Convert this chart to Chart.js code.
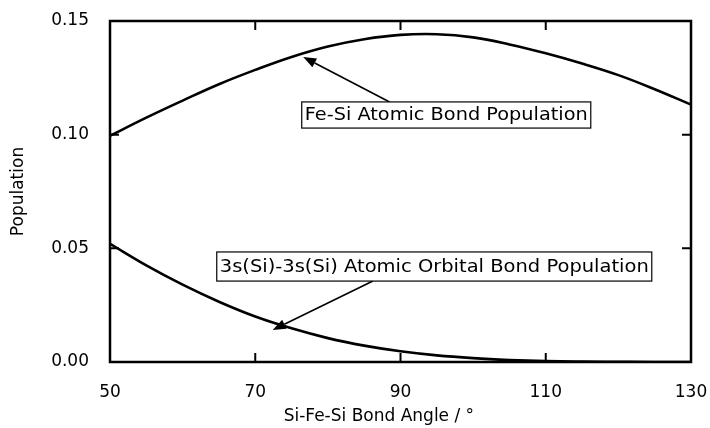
<!DOCTYPE html>
<html><head><meta charset="utf-8">
<script src="https://cdn.jsdelivr.net/npm/chart.js@4/dist/chart.umd.min.js"></script>
<style>html,body{margin:0;padding:0;background:#fff}#wrap{width:710px;height:428px}</style>
</head><body><div id="wrap"><canvas id="c" width="710" height="428"></canvas></div>
<script>
// ---- data ----
const angles = [50,55,60,65,70,75,80,85,90,95,100,105,110,115,120,125,130];
const feSiBondPopulation = [0.0995,0.1075,0.1150,0.1222,0.1285,0.1342,0.1388,0.1420,0.1439,0.1442,0.1428,0.1397,0.1358,0.1313,0.1262,0.1200,0.1132];
const s3sBondPopulation  = [0.0520,0.0425,0.0340,0.0265,0.0200,0.0148,0.0105,0.0072,0.0047,0.0029,0.0017,0.0009,0.0004,0.0002,0.0001,0.0000,0.0000];
const xTickValues = [50,70,90,110,130];
const yTickValues = [0,0.05,0.10,0.15];
const xTitle = "Si-Fe-Si Bond Angle / \u00b0";
const yTitle = "Population";
const labelTexts = ["Fe-Si Atomic Bond Population","3s(Si)-3s(Si) Atomic Orbital Bond Population"];

// annotation geometry (in data units)
const annot = [
  {text: labelTexts[0], x0: 76.4, x1: 116.2, yTop: 0.1144, yBot: 0.1029, tail:[88.5,0.1144], tip:[76.6,0.1342]},
  {text: labelTexts[1], x0: 64.7, x1: 124.6, yTop: 0.0484, yBot: 0.0356, tail:[86.2,0.0356], tip:[72.4,0.0141]}
];

const FONT = "'DejaVu Sans', 'Liberation Sans', Arial, sans-serif";

const framePlugin = {
  id: 'frame',
  afterDatasetsDraw(chart) {
    const {ctx, chartArea: a, scales: {x, y}} = chart;
    ctx.save();
    ctx.strokeStyle = '#000';
    // inward ticks
    ctx.lineWidth = 2;
    const tl = 9;
    xTickValues.forEach(v => {
      const px = x.getPixelForValue(v);
      ctx.beginPath();
      ctx.moveTo(px, a.bottom); ctx.lineTo(px, a.bottom - tl);
      ctx.moveTo(px, a.top); ctx.lineTo(px, a.top + tl);
      ctx.stroke();
    });
    yTickValues.forEach(v => {
      const py = y.getPixelForValue(v);
      ctx.beginPath();
      ctx.moveTo(a.left, py); ctx.lineTo(a.left + tl, py);
      ctx.moveTo(a.right, py); ctx.lineTo(a.right - tl, py);
      ctx.stroke();
    });
    // frame
    ctx.lineWidth = 2.5;
    ctx.strokeRect(a.left, a.top, a.right - a.left, a.bottom - a.top);

    // annotations
    annot.forEach(an => {
      const bx0 = x.getPixelForValue(an.x0), bx1 = x.getPixelForValue(an.x1);
      const by0 = y.getPixelForValue(an.yTop), by1 = y.getPixelForValue(an.yBot);
      const tx = x.getPixelForValue(an.tail[0]), ty = y.getPixelForValue(an.tail[1]);
      const px = x.getPixelForValue(an.tip[0]), py = y.getPixelForValue(an.tip[1]);
      const ang = Math.atan2(py - ty, px - tx);
      const hl = 13, hw = 5;
      const bxp = px - hl * Math.cos(ang), byp = py - hl * Math.sin(ang);
      ctx.lineWidth = 1.6;
      ctx.beginPath(); ctx.moveTo(tx, ty); ctx.lineTo(bxp, byp); ctx.stroke();
      ctx.fillStyle = '#000';
      ctx.beginPath();
      ctx.moveTo(px, py);
      ctx.lineTo(bxp + hw * Math.sin(ang), byp - hw * Math.cos(ang));
      ctx.lineTo(bxp - hw * Math.sin(ang), byp + hw * Math.cos(ang));
      ctx.closePath(); ctx.fill();
      ctx.fillStyle = '#fff';
      ctx.fillRect(bx0, by0, bx1 - bx0, by1 - by0);
      ctx.lineWidth = 1.2;
      ctx.strokeRect(bx0, by0, bx1 - bx0, by1 - by0);
      ctx.font = '17px ' + FONT;
      ctx.fillStyle = '#000';
      ctx.textBaseline = 'middle';
      ctx.textAlign = 'left';
      const w = ctx.measureText(an.text).width;
      const sx = (bx1 - bx0 - 6) / w;
      ctx.save();
      ctx.translate(bx0 + 3, (by0 + by1) / 2 + 1);
      ctx.scale(sx, 1);
      ctx.fillText(an.text, 0, 0);
      ctx.restore();
    });
    ctx.restore();
  }
};

new Chart(document.getElementById('c'), {
  type: 'line',
  data: {
    datasets: [
      {label: labelTexts[0], data: angles.map((a, i) => ({x: a, y: feSiBondPopulation[i]})),
       borderColor: '#000', borderWidth: 2.6, pointRadius: 0, tension: 0.4, fill: false},
      {label: labelTexts[1], data: angles.map((a, i) => ({x: a, y: s3sBondPopulation[i]})),
       borderColor: '#000', borderWidth: 2.6, pointRadius: 0, cubicInterpolationMode: 'monotone', fill: false}
    ]
  },
  options: {
    responsive: false, animation: false, devicePixelRatio: 1,
    layout: {padding: {top: 21, right: 19, left: 0, bottom: 0}},
    plugins: {legend: {display: false}, tooltip: {enabled: false}},
    scales: {
      x: {
        type: 'linear', min: 50, max: 130,
        afterBuildTicks: s => { s.ticks = xTickValues.map(v => ({value: v})); },
        afterFit: s => { s.height = 66; s.paddingLeft = 0; s.paddingRight = 0; s.paddingTop = 0; s.paddingBottom = 0; },
        grid: {display: false, drawTicks: false}, border: {display: false},
        ticks: {padding: 20, color: '#000', font: {family: FONT, size: 17}, maxRotation: 0},
        title: {display: true, text: xTitle + '        ', color: '#000', font: {family: FONT, size: 17}, padding: {top: 0, bottom: 1}}
      },
      y: {
        type: 'linear', min: 0, max: 0.15,
        afterBuildTicks: s => { s.ticks = yTickValues.map(v => ({value: v})); },
        afterFit: s => { s.width = 110; s.paddingLeft = 0; s.paddingRight = 0; s.paddingTop = 0; s.paddingBottom = 0; },
        grid: {display: false, drawTicks: false}, border: {display: false},
        ticks: {padding: 21, color: '#000', font: {family: FONT, size: 17}, callback: v => v.toFixed(2)},
        title: {display: true, text: yTitle, color: '#000', font: {family: FONT, size: 17}, padding: {top: 8, bottom: 0}}
      }
    }
  },
  plugins: [framePlugin]
});
</script>
</body></html>
